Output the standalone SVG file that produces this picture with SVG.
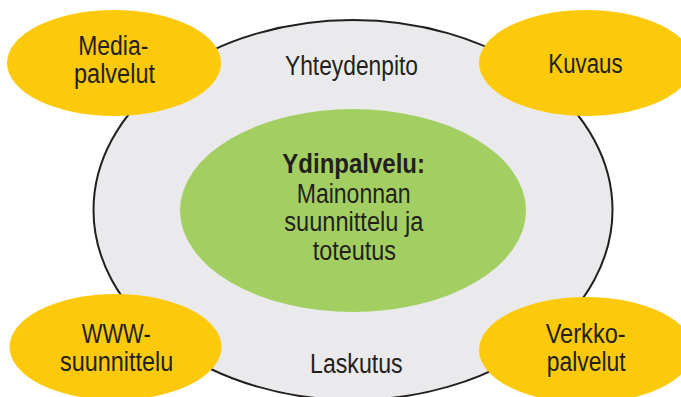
<svg xmlns="http://www.w3.org/2000/svg" width="681" height="397" viewBox="0 0 681 397">
<style>
.t{font-family:"Liberation Sans",Arial,sans-serif;font-size:27px;fill:#231f20;text-anchor:start}
.b{font-weight:bold}
.sat{fill:#fdc90b}
</style>
<rect width="681" height="397" fill="#ffffff"/>
<g id="outer">
<ellipse cx="353" cy="210" rx="259.5" ry="190" fill="#eaeaec" stroke="#231f20" stroke-width="2"/>
<text class="t" x="285" y="75" textLength="133" lengthAdjust="spacingAndGlyphs">Yhteydenpito</text>
<text class="t" x="310" y="372.5" textLength="92.7" lengthAdjust="spacingAndGlyphs">Laskutus</text>
</g>
<g id="core">
<ellipse cx="353" cy="210.5" rx="173" ry="101.5" fill="#a3cf62"/>
<text class="t b" x="282.3" y="172.7" textLength="142.7" lengthAdjust="spacingAndGlyphs">Ydinpalvelu:</text>
<text class="t" x="296.7" y="202.7" textLength="114" lengthAdjust="spacingAndGlyphs">Mainonnan</text>
<text class="t" x="284.3" y="230.7" textLength="139" lengthAdjust="spacingAndGlyphs">suunnittelu ja</text>
<text class="t" x="312.7" y="260" textLength="83.3" lengthAdjust="spacingAndGlyphs">toteutus</text>
</g>
<g id="media">
<ellipse class="sat" cx="114" cy="63" rx="107" ry="53"/>
<text class="t" x="78.3" y="55" textLength="70" lengthAdjust="spacingAndGlyphs">Media-</text>
<text class="t" x="74" y="83" textLength="81" lengthAdjust="spacingAndGlyphs">palvelut</text>
</g>
<g id="kuvaus">
<ellipse class="sat" cx="586" cy="63" rx="107" ry="53"/>
<text class="t" x="548.3" y="72.7" textLength="74.3" lengthAdjust="spacingAndGlyphs">Kuvaus</text>
</g>
<g id="www">
<ellipse class="sat" cx="115.5" cy="347" rx="106" ry="53"/>
<text class="t" x="81.7" y="343.3" textLength="69" lengthAdjust="spacingAndGlyphs">WWW-</text>
<text class="t" x="60" y="371" textLength="113.3" lengthAdjust="spacingAndGlyphs">suunnittelu</text>
</g>
<g id="verkko">
<ellipse class="sat" cx="586" cy="350" rx="107" ry="53"/>
<text class="t" x="545.7" y="343.3" textLength="80" lengthAdjust="spacingAndGlyphs">Verkko-</text>
<text class="t" x="546.7" y="371" textLength="79" lengthAdjust="spacingAndGlyphs">palvelut</text>
</g>
<g id="connectors"></g>
</svg>
